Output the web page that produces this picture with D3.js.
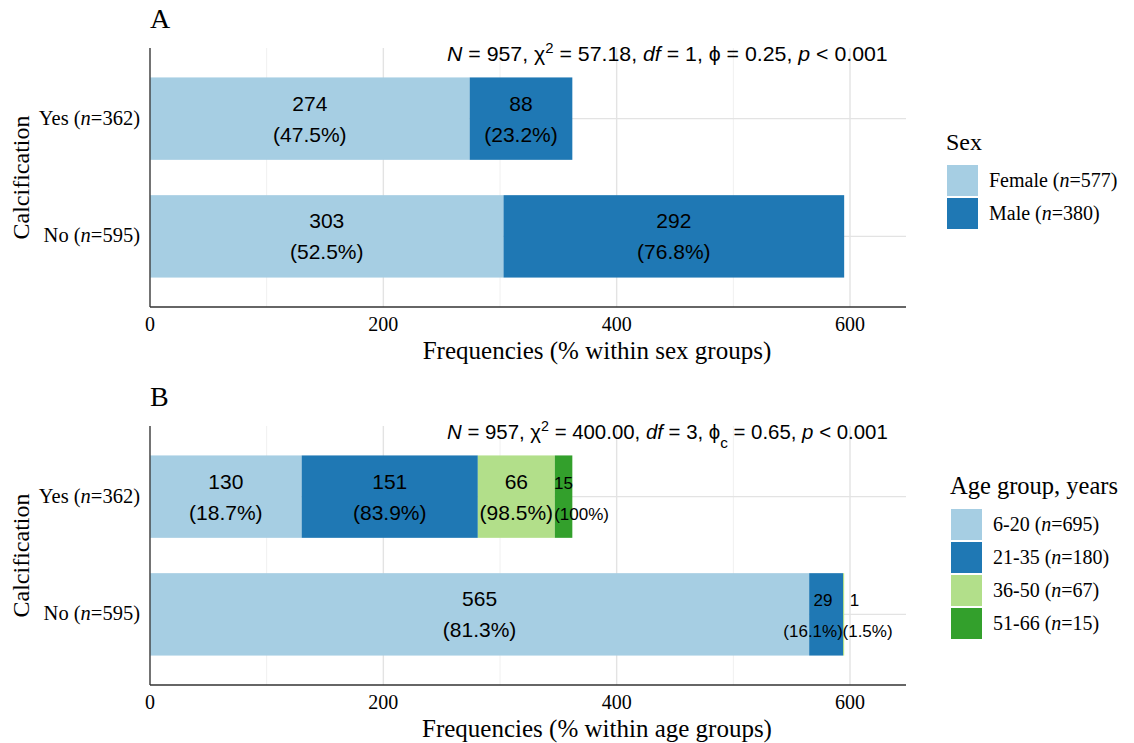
<!DOCTYPE html>
<html>
<head>
<meta charset="utf-8">
<script src="https://cdn.jsdelivr.net/npm/d3@7"></script>
<style>
  body { margin: 0; background: #fff; }
  svg { display: block; }
</style>
</head>
<body>
<svg id="chart" width="1134" height="743"></svg>
<script>
// Categories (top to bottom)
const calcCategories = ["Yes", "No"];
const calcCounts = { Yes: 362, No: 595 };

// Panel A: sex
const sexGroups = ["Female", "Male"];
const sexN = [577, 380];
const sexYes = [274, 88];
const sexNo = [303, 292];
const sexYesPct = ["47.5%", "23.2%"];
const sexNoPct = ["52.5%", "76.8%"];

// Panel B: age groups
const ageGroups = ["6-20", "21-35", "36-50", "51-66"];
const ageN = [695, 180, 67, 15];
const ageYes = [130, 151, 66, 15];
const ageNo = [565, 29, 1, 0];
const ageYesPct = ["18.7%", "83.9%", "98.5%", "100%"];
const ageNoPct = ["81.3%", "16.1%", "1.5%", ""];

const xTicks = [0, 200, 400, 600];
const xMinor = [100, 300, 500];

const colSex = ["#a6cee3", "#1f78b4"];
const colAge = ["#a6cee3", "#1f78b4", "#b2df8a", "#33a02c"];

// small label nudges (px) where segments are too thin
const nudge = {
  "No|21-35": { num: -3, pct: -13 },
  "No|36-50": { num: 11, pct: 24 },
  "Yes|51-66": { num: 0, pct: 18 }
};

const svg = d3.select("#chart");
const serif = "'Liberation Serif', 'Times New Roman', serif";
const sans = "'Liberation Sans', Arial, sans-serif";

function drawPanel(opt) {
  const left = 150, right = 906;
  const x = d3.scaleLinear().domain([0, 648]).range([left, right]);
  const y = d3.scalePoint().domain(calcCategories).range([opt.top, opt.bottom]).padding(0.6);
  const bh = y.step() * 0.7;
  const g = svg.append("g");

  // panel letter
  g.append("text").attr("x", 150).attr("y", opt.top - 20)
    .style("font-family", serif).style("font-size", "28px").text(opt.letter);

  // grid
  g.selectAll(".minor").data(xMinor).join("line")
    .attr("x1", d => x(d)).attr("x2", d => x(d))
    .attr("y1", opt.top).attr("y2", opt.bottom)
    .attr("stroke", "#f0f0f0").attr("stroke-width", 1);
  g.selectAll(".major").data(xTicks).join("line")
    .attr("x1", d => x(d)).attr("x2", d => x(d))
    .attr("y1", opt.top).attr("y2", opt.bottom)
    .attr("stroke", "#e3e3e3").attr("stroke-width", 1.4);
  g.selectAll(".hgrid").data(calcCategories).join("line")
    .attr("x1", left).attr("x2", right)
    .attr("y1", d => y(d)).attr("y2", d => y(d))
    .attr("stroke", "#e3e3e3").attr("stroke-width", 1.4);

  // stacked bars
  const rows = [];
  calcCategories.forEach(cat => {
    const vals = cat === "Yes" ? opt.yes : opt.no;
    const pcts = cat === "Yes" ? opt.yesPct : opt.noPct;
    let acc = 0;
    opt.groups.forEach((grp, i) => {
      rows.push({ cat, grp, i, x0: acc, x1: acc + vals[i], v: vals[i], pct: pcts[i] });
      acc += vals[i];
    });
  });
  const segs = rows.filter(d => d.v > 0);
  g.selectAll(".bar").data(segs).join("rect")
    .attr("x", d => x(d.x0)).attr("width", d => x(d.x1) - x(d.x0))
    .attr("y", d => y(d.cat) - bh / 2).attr("height", bh)
    .attr("fill", d => opt.colors[d.i]);

  segs.forEach(d => {
    const cx = (x(d.x0) + x(d.x1)) / 2;
    const nd = nudge[d.cat + "|" + d.grp] || { num: 0, pct: 0 };
    const small = d.v < 40;
    g.append("text").attr("x", cx + nd.num).attr("y", y(d.cat) - 8)
      .attr("text-anchor", "middle")
      .style("font-family", sans).style("font-size", small ? "17px" : "21px")
      .text(d.v);
    g.append("text").attr("x", cx + nd.pct).attr("y", y(d.cat) + 23)
      .attr("text-anchor", "middle")
      .style("font-family", sans).style("font-size", small ? "17px" : "21px")
      .text("(" + d.pct + ")");
  });

  // axes lines
  g.append("line").attr("x1", left).attr("x2", left).attr("y1", opt.top).attr("y2", opt.bottom)
    .attr("stroke", "#333").attr("stroke-width", 1.3);
  g.append("line").attr("x1", left).attr("x2", right).attr("y1", opt.bottom).attr("y2", opt.bottom)
    .attr("stroke", "#333").attr("stroke-width", 1.3);

  // x tick labels
  g.selectAll(".xt").data(xTicks).join("text")
    .attr("x", d => x(d)).attr("y", opt.bottom + 24)
    .attr("text-anchor", "middle")
    .style("font-family", serif).style("font-size", "20px").text(d => d);

  g.append("text").attr("x", 597).attr("y", opt.bottom + 52)
    .attr("text-anchor", "middle")
    .style("font-family", serif).style("font-size", "25px").text(opt.xTitle);

  // y tick labels
  calcCategories.forEach(cat => {
    const t = g.append("text").attr("x", 140).attr("y", y(cat) + 6)
      .attr("text-anchor", "end")
      .style("font-family", serif).style("font-size", "20.5px");
    t.append("tspan").text(cat + " (");
    t.append("tspan").style("font-style", "italic").text("n");
    t.append("tspan").text("=" + calcCounts[cat] + ")");
  });

  g.append("text")
    .attr("transform", `translate(29,${(opt.top + opt.bottom) / 2}) rotate(-90)`)
    .attr("text-anchor", "middle")
    .style("font-family", serif).style("font-size", "24px").text("Calcification");

  // stats subtitle
  const st = g.append("text").attr("x", 0).attr("y", 0)
    .style("font-family", sans).style("font-size", "20px");
  opt.stats.forEach(p => {
    const ts = st.append("tspan").text(p.t);
    if (p.i) ts.style("font-style", "italic");
    if (p.sup) ts.attr("baseline-shift", "super").style("font-size", "14px");
    if (p.sub) ts.attr("baseline-shift", "sub").style("font-size", "15px");
  });
  const w = st.node().getComputedTextLength();
  const target = 441;
  st.attr("transform", `translate(888,${opt.top + 13}) scale(${target / w},1) translate(${-w},0)`);

  // legend
  const lg = g.append("g");
  lg.append("text").attr("x", opt.legX).attr("y", opt.legY)
    .style("font-family", serif).style("font-size", opt.legTitleSize).text(opt.legTitle);
  opt.groups.forEach((grp, i) => {
    const ky = opt.legY + 15 + i * 33;
    lg.append("rect").attr("x", opt.legX + 1).attr("y", ky).attr("width", 31).attr("height", 31)
      .attr("fill", opt.colors[i]);
    const t = lg.append("text").attr("x", opt.legX + 43).attr("y", ky + 22)
      .style("font-family", serif).style("font-size", "20px");
    t.append("tspan").text(grp + " (");
    t.append("tspan").style("font-style", "italic").text("n");
    t.append("tspan").text("=" + opt.n[i] + ")");
  });
}

drawPanel({
  letter: "A", top: 48, bottom: 307,
  groups: sexGroups, n: sexN, yes: sexYes, no: sexNo, yesPct: sexYesPct, noPct: sexNoPct,
  colors: colSex, xTitle: "Frequencies (% within sex groups)",
  legTitle: "Sex", legTitleSize: "24px", legX: 946, legY: 150,
  stats: [{ t: "N", i: true }, { t: " = 957,  χ" }, { t: "2", sup: true }, { t: " = 57.18,  " },
          { t: "df", i: true }, { t: " = 1,  ϕ = 0.25,  " }, { t: "p", i: true }, { t: " < 0.001" }]
});

drawPanel({
  letter: "B", top: 426, bottom: 685,
  groups: ageGroups, n: ageN, yes: ageYes, no: ageNo, yesPct: ageYesPct, noPct: ageNoPct,
  colors: colAge, xTitle: "Frequencies (% within age groups)",
  legTitle: "Age group, years", legTitleSize: "24.5px", legX: 950, legY: 494,
  stats: [{ t: "N", i: true }, { t: " = 957,  χ" }, { t: "2", sup: true }, { t: " = 400.00,  " },
          { t: "df", i: true }, { t: " = 3,  ϕ" }, { t: "c", sub: true }, { t: " = 0.65,  " },
          { t: "p", i: true }, { t: " < 0.001" }]
});
</script>
</body>
</html>
